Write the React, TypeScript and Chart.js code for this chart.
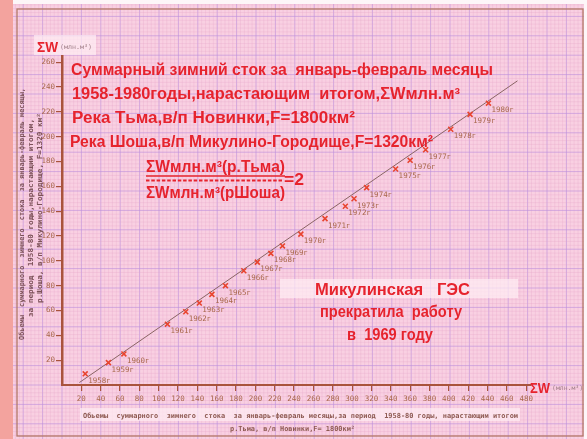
import React, { useEffect, useRef } from 'react';
import { Chart, registerables } from 'chart.js';

Chart.register(...registerables);

// ---- data ----
const years = [1958, 1959, 1960, 1961, 1962, 1963, 1964, 1965, 1966, 1967, 1968, 1969, 1970, 1971, 1972, 1973, 1974, 1975, 1976, 1977, 1978, 1979, 1980];
const yearLabels = years.map((y) => `${y}г`);
const sumTma = [24, 48, 64, 109, 128, 142, 155, 169, 188, 202, 216, 228, 247, 272, 293, 302, 315, 345, 360, 376, 402, 422, 441];
const sumShosha = [9, 18, 25, 49, 59, 66, 73, 80, 92, 99, 106, 112, 121.5, 134, 144, 150, 159, 174, 181, 189.5, 206, 218, 227];
const trendTma = [18, 471];
const trendShosha = [2, 245];
const xTicks = [20, 40, 60, 80, 100, 120, 140, 160, 180, 200, 220, 240, 260, 280, 300, 320, 340, 360, 380, 400, 420, 440, 460, 480];
const yTicks = [20, 40, 60, 80, 100, 120, 140, 160, 180, 200, 220, 240, 260];

const titleLines = [
  'Суммарный зимний сток за  январь-февраль месяцы',
  '1958-1980годы,нарастающим  итогом,ΣWмлн.м³',
  'Река Тьма,в/п Новинки,F=1800км²',
  'Река Шоша,в/п Микулино-Городище,F=1320км²',
];
const ratioNum = 'ΣWмлн.м³(р.Тьма)';
const ratioDen = 'ΣWмлн.м³(рШоша)';
const ratioVal = '=2';
const noteLines = ['Микулинская   ГЭС', 'прекратила  работу', 'в  1969 году'];
const xTitleLines = [
  'Обьемы  суммарного  зимнего  стока  за январь-февраль месяцы,за период  1958-80 годы, нарастающим итогом',
  'р.Тьма, в/п Новинки,F= 1800км²',
];
const yTitleLines = [
  'Обьемы  суммарного  зимнего  стока  за январь-февраль месяцы,',
  'за период  1958-80 годы,нарастающим итогом,',
  'р.Шоша, в/п Микулино-Городище, F=1320 км²',
];
const axisSymbol = 'ΣW';
const axisUnit = '(млн.м³)';

// ---- style ----
const W = 587;
const H = 439;
const RED = '#e6232d';
const AXIS = '#a9533c';
const LABEL = '#a8674a';
const DARKTXT = '#7c5158';
const SANS = '"Liberation Sans", Arial, sans-serif';
const MONO = '"DejaVu Sans Mono", "Liberation Mono", monospace';

function fitText(ctx: CanvasRenderingContext2D, text: string, x: number, y: number, width: number, font: string, color: string) {
  ctx.save();
  ctx.font = font;
  ctx.fillStyle = color;
  ctx.textAlign = 'left';
  ctx.textBaseline = 'alphabetic';
  const w = ctx.measureText(text).width;
  ctx.translate(x, y);
  ctx.scale(width / w, 1);
  ctx.fillText(text, 0, 0);
  ctx.restore();
}

function fitRotated(ctx: CanvasRenderingContext2D, text: string, cx: number, cy: number, len: number, font: string, color: string) {
  ctx.save();
  ctx.font = font;
  ctx.fillStyle = color;
  ctx.textAlign = 'left';
  ctx.textBaseline = 'middle';
  const w = ctx.measureText(text).width;
  ctx.translate(cx, cy);
  ctx.rotate(-Math.PI / 2);
  ctx.scale(len / w, 1);
  ctx.fillText(text, -w / 2, 0);
  ctx.restore();
}

const paperPlugin = {
  id: 'paper',
  beforeDraw(chart: any) {
    const ctx: CanvasRenderingContext2D = chart.ctx;
    ctx.save();
    ctx.fillStyle = '#fdf6f8';
    ctx.fillRect(0, 0, W, H);
    ctx.fillStyle = '#f3a39e';
    ctx.fillRect(0, 0, 13, H);
    ctx.fillStyle = '#f9d0e2';
    ctx.fillRect(13, 4, W - 16, H - 4);
    const ox = 62;
    const oy = 385;
    const major = 19.4;
    const minor = major / 5;
    ctx.beginPath();
    ctx.rect(13, 4, W - 16, H - 4);
    ctx.clip();
    for (let k = -20; k <= 150; k++) {
      const x = ox + k * minor;
      const isMajor = k % 5 === 0;
      ctx.strokeStyle = isMajor ? 'rgba(190,145,220,0.65)' : 'rgba(230,160,198,0.45)';
      ctx.lineWidth = isMajor ? 1 : 0.6;
      ctx.beginPath();
      ctx.moveTo(x, 0);
      ctx.lineTo(x, H);
      ctx.stroke();
    }
    for (let k = -20; k <= 120; k++) {
      const y = oy - k * minor;
      const isMajor = k % 5 === 0;
      ctx.strokeStyle = isMajor ? 'rgba(190,145,220,0.65)' : 'rgba(230,160,198,0.45)';
      ctx.lineWidth = isMajor ? 1 : 0.6;
      ctx.beginPath();
      ctx.moveTo(0, y);
      ctx.lineTo(W, y);
      ctx.stroke();
    }
    // pale pasted bands
    ctx.fillStyle = 'rgba(255,238,244,0.7)';
    ctx.fillRect(280, 279, 238, 19);
    ctx.fillRect(34, 35, 62, 20);
    ctx.fillRect(80, 408, 440, 13);
    ctx.restore();
    // frame
    ctx.save();
    ctx.strokeStyle = '#b27767';
    ctx.lineWidth = 1.3;
    ctx.strokeRect(17, 9, 566, 427);
    ctx.restore();
  },
};

const textPlugin = {
  id: 'texts',
  afterDatasetsDraw(chart: any) {
    const ctx: CanvasRenderingContext2D = chart.ctx;
    const meta = chart.getDatasetMeta(0);
    ctx.save();
    ctx.font = `7.5px ${MONO}`;
    ctx.fillStyle = LABEL;
    ctx.textAlign = 'left';
    ctx.textBaseline = 'middle';
    meta.data.forEach((el: any, i: number) => {
      ctx.fillText(yearLabels[i], el.x + 3, el.y + 7);
    });
    ctx.restore();
  },
  afterDraw(chart: any) {
    const ctx: CanvasRenderingContext2D = chart.ctx;
    const big = `bold 16px ${SANS}`;
    fitText(ctx, titleLines[0], 71, 75, 422, big, RED);
    fitText(ctx, titleLines[1], 72, 99, 388, big, RED);
    fitText(ctx, titleLines[2], 72, 123, 283, big, RED);
    fitText(ctx, titleLines[3], 70, 146.5, 363, big, RED);
    const mid = `bold 16px ${SANS}`;
    fitText(ctx, ratioNum, 146, 172, 139, mid, RED);
    fitText(ctx, ratioDen, 146, 198, 139, mid, RED);
    fitText(ctx, ratioVal, 284, 185, 20, `bold 16px ${SANS}`, RED);
    ctx.save();
    ctx.strokeStyle = RED;
    ctx.lineWidth = 1.4;
    ctx.beginPath();
    ctx.moveTo(146, 176);
    ctx.lineTo(285, 176);
    ctx.stroke();
    ctx.lineWidth = 2;
    ctx.setLineDash([3.5, 1.8]);
    ctx.beginPath();
    ctx.moveTo(146, 180.5);
    ctx.lineTo(282, 180.5);
    ctx.stroke();
    ctx.restore();

    fitText(ctx, noteLines[0], 315, 295, 155, `bold 16px ${SANS}`, RED);
    fitText(ctx, noteLines[1], 320, 317, 142, `bold 16px ${SANS}`, RED);
    fitText(ctx, noteLines[2], 347, 340, 86, `bold 16px ${SANS}`, RED);

    // axis symbols
    fitText(ctx, axisSymbol, 37, 52, 21, `bold 15px ${SANS}`, RED);
    fitText(ctx, axisUnit, 60, 48.5, 32, `6.5px ${MONO}`, '#a07f88');
    fitText(ctx, axisSymbol, 530, 393, 20, `bold 15px ${SANS}`, RED);
    fitText(ctx, axisUnit, 552, 390, 31, `6.5px ${MONO}`, '#a07f88');

    // axis titles
    fitText(ctx, xTitleLines[0], 83, 417.5, 435, `bold 7px ${MONO}`, '#8e5a52');
    fitText(ctx, xTitleLines[1], 230, 431, 125, `bold 7px ${MONO}`, '#8e5a52');
    fitRotated(ctx, yTitleLines[0], 22, 214, 252, `bold 7px ${MONO}`, DARKTXT);
    fitRotated(ctx, yTitleLines[1], 31.5, 218, 198, `bold 7px ${MONO}`, DARKTXT);
    fitRotated(ctx, yTitleLines[2], 40, 208, 190, `bold 7px ${MONO}`, DARKTXT);
  },
};

export default function App() {
  const ref = useRef<HTMLCanvasElement>(null);
  useEffect(() => {
    if (!ref.current) return;
    const chart = new Chart(ref.current, {
      type: 'scatter',
      data: {
        datasets: [
          {
            type: 'scatter',
            data: sumTma.map((x, i) => ({ x, y: sumShosha[i] })),
            pointStyle: 'crossRot',
            pointRadius: 3.5,
            pointBorderWidth: 1.6,
            borderColor: '#e8442f',
            backgroundColor: '#e8442f',
          } as any,
          {
            type: 'line',
            data: trendTma.map((x, i) => ({ x, y: trendShosha[i] })),
            borderColor: '#8a6464',
            borderWidth: 1,
            pointRadius: 0,
            fill: false,
          } as any,
        ],
      },
      options: {
        animation: false,
        responsive: false,
        events: [],
        layout: { padding: { top: 56, right: 56, left: 0, bottom: 0 } },
        plugins: { legend: { display: false }, tooltip: { enabled: false }, title: { display: false } },
        scales: {
          x: {
            type: 'linear',
            min: 0,
            max: 485,
            afterBuildTicks: (s: any) => {
              s.ticks = xTicks.map((v) => ({ value: v }));
            },
            afterFit: (s: any) => {
              s.height = 54;
            },
            border: { color: AXIS, width: 2 },
            grid: { drawOnChartArea: false, drawTicks: true, tickLength: 6, color: AXIS, lineWidth: 1.2 },
            ticks: { color: LABEL, font: { family: MONO, size: 7.5 }, padding: 4, maxRotation: 0, autoSkip: false },
          },
          y: {
            type: 'linear',
            min: 0,
            max: 265,
            afterBuildTicks: (s: any) => {
              s.ticks = yTicks.map((v) => ({ value: v }));
            },
            afterFit: (s: any) => {
              s.width = 62;
            },
            border: { color: AXIS, width: 2.5 },
            grid: { drawOnChartArea: false, drawTicks: true, tickLength: 6, color: AXIS, lineWidth: 1.2 },
            ticks: { color: LABEL, font: { family: MONO, size: 7.5 }, padding: 1, autoSkip: false },
          },
        },
      },
      plugins: [paperPlugin, textPlugin],
    } as any);
    return () => chart.destroy();
  }, []);
  return (
    <div style={{ position: 'absolute', left: 0, top: 0, width: W, height: H }}>
      <canvas ref={ref} width={W} height={H} style={{ display: 'block', width: W, height: H }} />
    </div>
  );
}
